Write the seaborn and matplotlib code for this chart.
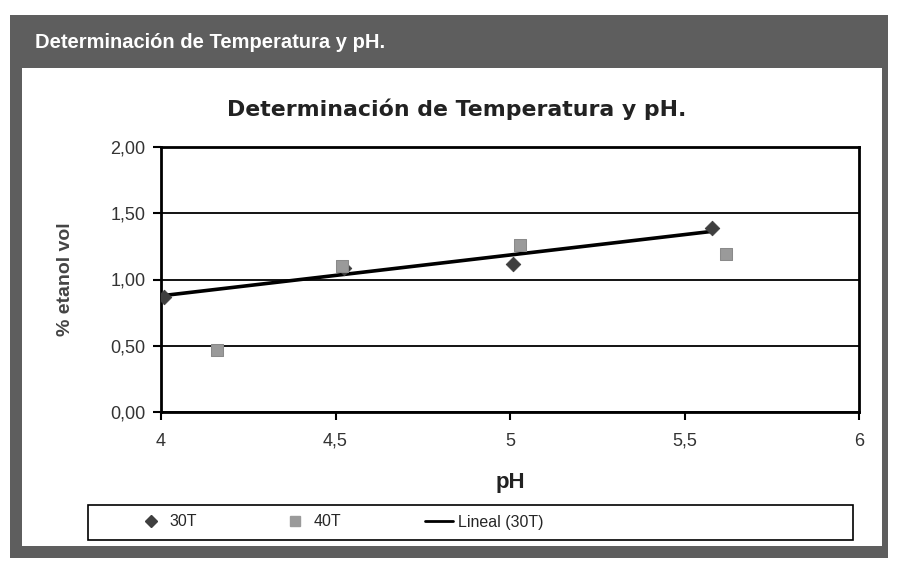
import matplotlib
matplotlib.use("Agg")
import matplotlib.pyplot as plt
from matplotlib.patches import Rectangle
from matplotlib.lines import Line2D
import seaborn as sns
import pandas as pd

# Ethanol yield (% vol) versus pH at two temperatures
ph_30 = [4.01, 4.525, 5.01, 5.58]
etanol_30 = [0.87, 1.09, 1.12, 1.39]
ph_40 = [4.16, 4.52, 5.03, 5.62]
etanol_40 = [0.47, 1.10, 1.26, 1.19]

x_ticks = [4, 4.5, 5, 5.5, 6]
x_tick_labels = ["4", "4,5", "5", "5,5", "6"]
y_ticks = [0.0, 0.5, 1.0, 1.5, 2.0]
y_tick_labels = ["0,00", "0,50", "1,00", "1,50", "2,00"]

titulo = "Determinación de Temperatura y pH."

sns.set_theme(style="white")
plt.rcParams["font.family"] = ["Liberation Sans", "DejaVu Sans"]

W, H = 897, 563
fig = plt.figure(figsize=(W / 100, H / 100), dpi=100)
fig.patch.set_facecolor("white")


def px_rect(x0, y0, x1, y1, **kw):
    fig.add_artist(Rectangle((x0 / W, 1 - y1 / H), (x1 - x0) / W, (y1 - y0) / H,
                             transform=fig.transFigure, **kw))


# Dark outer frame with header band and white inner panel
px_rect(10, 15, 888, 558, facecolor="#5e5e5e", edgecolor="none", zorder=0)
px_rect(22, 68, 882, 546, facecolor="white", edgecolor="none", zorder=0)
fig.text(35 / W, 1 - 42 / H, titulo, color="white", fontsize=14.5, fontweight="bold",
         family=["Liberation Sans Narrow", "Liberation Sans", "DejaVu Sans"],
         fontstretch="condensed", ha="left", va="center", zorder=2)

ax = fig.add_axes([161 / W, 1 - 412 / H, (859 - 161) / W, (412 - 147) / H])
ax.set_facecolor("white")

df30 = pd.DataFrame({"pH": ph_30, "etanol": etanol_30})
df40 = pd.DataFrame({"pH": ph_40, "etanol": etanol_40})

sns.regplot(data=df30, x="pH", y="etanol", ax=ax, scatter=False, ci=None,
            truncate=True, line_kws={"color": "black", "lw": 2.6, "zorder": 3})
sns.scatterplot(data=df30, x="pH", y="etanol", ax=ax, marker="D", s=55,
                color="#3f3f3f", edgecolor="#3f3f3f", zorder=4)
sns.scatterplot(data=df40, x="pH", y="etanol", ax=ax, marker="s", s=85,
                color="#9a9a9a", edgecolor="#8a8a8a", zorder=5)

ax.set_xlim(4, 6)
ax.set_ylim(0, 2)
ax.set_xticks(x_ticks)
ax.set_xticklabels(x_tick_labels)
ax.set_yticks(y_ticks)
ax.set_yticklabels(y_tick_labels)
ax.tick_params(axis="both", which="both", direction="out", length=6, width=1.5,
               color="black", labelsize=13, labelcolor="#333333",
               bottom=True, left=True)
ax.tick_params(axis="y", pad=5)
ax.tick_params(axis="x", pad=9)
for s in ax.spines.values():
    s.set_visible(True)
    s.set_color("black")
    s.set_linewidth(2)
ax.yaxis.grid(True, color="black", lw=1.3)
ax.xaxis.grid(False)
ax.set_axisbelow(True)

ax.set_xlabel("pH", fontsize=16, fontweight="bold", color="#222222", labelpad=16)
ax.set_ylabel("% etanol vol", fontsize=14, fontweight="bold", color="#444444", labelpad=26)
fig.text(457 / W, 1 - 109 / H, titulo, fontsize=15.8, fontweight="bold", color="#222222",
         family=["DejaVu Sans"], ha="center", va="center")

# Legend box across the bottom of the panel
px_rect(88, 505, 853, 540, facecolor="white", edgecolor="black", lw=1.2, zorder=1)
handles = [
    Line2D([], [], marker="D", ls="none", color="#3f3f3f", markersize=6),
    Line2D([], [], marker="s", ls="none", color="#9a9a9a", markersize=7),
    Line2D([], [], color="black", lw=2),
]
fig.legend(handles, ["30T", "40T", "Lineal (30T)"], loc="center",
           bbox_to_anchor=(340 / W, 1 - 522 / H), ncol=3, frameon=False,
           fontsize=11.5, handlelength=1.8, handletextpad=0.3, columnspacing=5.2)

fig.savefig("out.png", dpi=100)
